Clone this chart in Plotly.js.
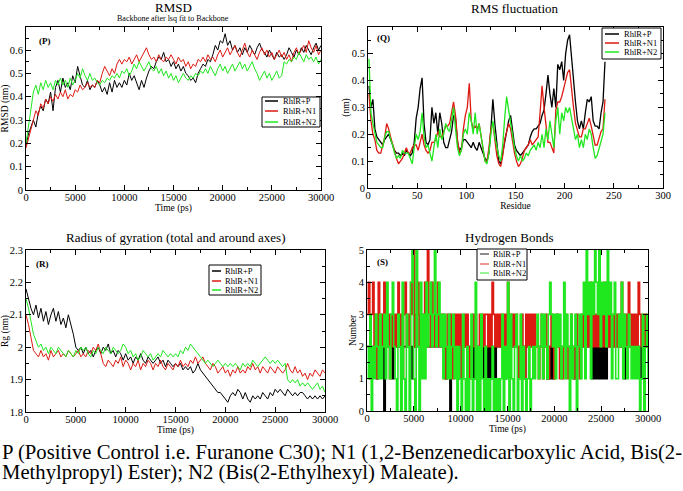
<!DOCTYPE html>
<html><head><meta charset="utf-8">
<script src="https://cdn.plot.ly/plotly-3.0.1.min.js"></script>
<style>html,body{margin:0;padding:0;background:#fff;}#c{width:683px;height:491px;}</style>
</head><body><div id="c"></div>
<script>
// ---------- DATA ----------
const seriesNames = ['RhlR+P', 'RhlR+N1', 'RhlR+N2'];
const timeStep = 250;          // ps between RMSD / Rg samples
const hbStep = 150;            // ps between H-bond samples
const residueStart = 1, residueStep = 2;

const rmsdP = [0.19,0.24,0.27,0.30,0.27,0.33,0.36,0.34,0.39,0.37,0.42,0.34,0.44,0.47,0.42,0.48,0.44,0.46,0.43,0.49,
0.46,0.53,0.49,0.45,0.44,0.47,0.43,0.45,0.44,0.47,0.45,0.42,0.44,0.41,0.46,0.42,0.47,0.44,0.46,0.44,
0.47,0.45,0.50,0.47,0.49,0.46,0.43,0.47,0.44,0.48,0.51,0.53,0.52,0.55,0.57,0.56,0.59,0.55,0.56,0.53,
0.55,0.52,0.54,0.51,0.53,0.50,0.49,0.47,0.48,0.46,0.50,0.52,0.54,0.53,0.56,0.55,0.58,0.62,0.60,0.64,
0.63,0.67,0.62,0.64,0.60,0.62,0.59,0.61,0.58,0.61,0.59,0.62,0.60,0.58,0.61,0.63,0.60,0.59,0.57,0.60,
0.58,0.56,0.59,0.57,0.58,0.56,0.58,0.61,0.59,0.57,0.60,0.58,0.61,0.59,0.62,0.60,0.58,0.61,0.63,0.60,0.62];
const rmsdN1 = [0.18,0.22,0.27,0.31,0.34,0.32,0.37,0.35,0.39,0.37,0.40,0.38,0.41,0.39,0.42,0.40,0.43,0.39,0.41,0.40,
0.43,0.42,0.45,0.43,0.44,0.46,0.44,0.45,0.44,0.47,0.46,0.50,0.53,0.51,0.49,0.52,0.50,0.54,0.56,0.54,
0.56,0.55,0.57,0.54,0.56,0.58,0.55,0.57,0.59,0.61,0.58,0.56,0.57,0.55,0.58,0.56,0.55,0.57,0.56,0.58,
0.56,0.54,0.57,0.55,0.56,0.53,0.55,0.52,0.54,0.53,0.56,0.55,0.57,0.55,0.58,0.56,0.57,0.55,0.58,0.60,
0.57,0.59,0.61,0.58,0.60,0.62,0.59,0.57,0.60,0.63,0.59,0.57,0.60,0.58,0.56,0.59,0.61,0.58,0.60,0.57,
0.59,0.56,0.58,0.60,0.57,0.59,0.56,0.58,0.55,0.59,0.61,0.58,0.60,0.62,0.59,0.64,0.61,0.59,0.62,0.58,0.60];
const rmsdN2 = [0.20,0.28,0.36,0.42,0.45,0.41,0.46,0.43,0.47,0.44,0.46,0.43,0.47,0.45,0.48,0.45,0.47,0.44,0.48,0.45,
0.47,0.50,0.48,0.52,0.49,0.47,0.50,0.47,0.48,0.46,0.45,0.47,0.46,0.48,0.47,0.49,0.48,0.50,0.48,0.51,
0.50,0.52,0.49,0.51,0.54,0.52,0.55,0.53,0.51,0.53,0.55,0.52,0.51,0.53,0.50,0.52,0.49,0.51,0.48,0.50,
0.47,0.49,0.46,0.48,0.50,0.48,0.47,0.49,0.48,0.50,0.49,0.51,0.50,0.52,0.50,0.53,0.51,0.49,0.52,0.54,
0.51,0.53,0.50,0.52,0.54,0.51,0.53,0.55,0.52,0.54,0.51,0.53,0.55,0.52,0.50,0.47,0.49,0.51,0.48,0.50,
0.47,0.49,0.51,0.48,0.49,0.55,0.54,0.56,0.55,0.57,0.56,0.59,0.57,0.55,0.58,0.56,0.57,0.55,0.57,0.54,0.56];

const rmsfP = [0.38,0.30,0.33,0.22,0.19,0.18,0.17,0.16,0.18,0.19,0.20,0.18,0.16,0.14,0.13,0.13,0.12,0.13,0.12,0.14,
0.13,0.12,0.13,0.17,0.26,0.30,0.37,0.41,0.24,0.17,0.16,0.18,0.30,0.24,0.28,0.20,0.28,0.24,0.17,0.15,
0.15,0.18,0.21,0.27,0.26,0.17,0.14,0.15,0.18,0.18,0.17,0.16,0.15,0.17,0.15,0.14,0.17,0.15,0.13,0.11,
0.10,0.13,0.22,0.33,0.24,0.16,0.10,0.09,0.13,0.18,0.22,0.25,0.27,0.21,0.16,0.14,0.13,0.12,0.13,0.14,
0.15,0.16,0.19,0.21,0.22,0.22,0.23,0.24,0.27,0.29,0.35,0.42,0.35,0.30,0.37,0.30,0.46,0.44,0.47,0.40,
0.50,0.55,0.57,0.48,0.40,0.32,0.25,0.22,0.25,0.22,0.28,0.33,0.32,0.34,0.25,0.23,0.23,0.22,0.28,0.32,0.47];
const rmsfN1 = [0.35,0.25,0.20,0.18,0.14,0.13,0.13,0.16,0.19,0.24,0.22,0.19,0.16,0.13,0.11,0.09,0.10,0.11,0.13,0.15,
0.13,0.13,0.15,0.16,0.16,0.14,0.17,0.20,0.16,0.14,0.13,0.14,0.17,0.17,0.18,0.21,0.19,0.19,0.21,0.23,
0.23,0.24,0.28,0.32,0.27,0.18,0.13,0.14,0.22,0.27,0.30,0.39,0.25,0.22,0.23,0.22,0.24,0.19,0.15,0.10,
0.10,0.15,0.22,0.24,0.18,0.12,0.09,0.08,0.12,0.18,0.21,0.24,0.22,0.17,0.13,0.10,0.08,0.09,0.11,0.14,
0.15,0.16,0.18,0.16,0.17,0.18,0.19,0.28,0.38,0.30,0.22,0.17,0.17,0.15,0.13,0.29,0.32,0.32,0.34,0.37,
0.40,0.43,0.44,0.36,0.30,0.24,0.21,0.19,0.19,0.22,0.22,0.24,0.26,0.23,0.19,0.16,0.16,0.19,0.21,0.22,0.33];
const rmsfN2 = [0.48,0.28,0.24,0.21,0.17,0.16,0.15,0.15,0.19,0.21,0.21,0.18,0.16,0.13,0.11,0.12,0.11,0.14,0.13,0.13,
0.13,0.11,0.09,0.15,0.20,0.18,0.21,0.28,0.19,0.15,0.16,0.13,0.10,0.15,0.20,0.15,0.22,0.18,0.20,0.24,
0.22,0.21,0.25,0.30,0.22,0.15,0.12,0.14,0.20,0.22,0.20,0.28,0.25,0.20,0.28,0.20,0.24,0.19,0.14,0.10,
0.09,0.13,0.20,0.25,0.19,0.15,0.12,0.10,0.16,0.26,0.34,0.29,0.24,0.19,0.15,0.12,0.10,0.12,0.10,0.11,
0.13,0.12,0.14,0.15,0.16,0.14,0.17,0.15,0.20,0.15,0.22,0.18,0.25,0.20,0.15,0.25,0.30,0.20,0.28,0.25,
0.30,0.28,0.30,0.26,0.22,0.18,0.20,0.15,0.18,0.15,0.20,0.18,0.22,0.20,0.15,0.11,0.12,0.15,0.18,0.20,0.28];

const rgP = [2.18,2.15,2.12,2.10,2.13,2.09,2.12,2.08,2.11,2.07,2.10,2.12,2.08,2.11,2.07,2.09,2.06,2.10,2.07,2.04,
2.00,1.99,2.00,1.98,2.00,1.98,1.99,1.97,1.99,2.00,1.98,2.00,1.99,2.01,1.98,1.99,1.97,1.99,1.98,1.96,
1.98,1.96,1.97,1.95,1.97,1.96,1.98,1.96,1.95,1.97,1.96,1.95,1.96,1.97,1.95,1.96,1.94,1.96,1.95,1.94,
1.95,1.94,1.95,1.93,1.94,1.93,1.94,1.92,1.93,1.95,1.93,1.92,1.91,1.90,1.89,1.88,1.87,1.86,1.86,1.85,
1.84,1.83,1.85,1.86,1.85,1.87,1.86,1.84,1.86,1.84,1.83,1.85,1.84,1.85,1.84,1.86,1.85,1.84,1.86,1.85,
1.87,1.86,1.87,1.86,1.85,1.87,1.86,1.85,1.86,1.85,1.86,1.86,1.85,1.84,1.85,1.84,1.85,1.84,1.85,1.84,1.85];
const rgN1 = [2.10,2.07,2.03,1.99,1.98,1.97,1.99,1.97,1.98,1.96,1.99,1.97,1.98,1.99,1.97,1.98,1.97,1.99,1.98,1.97,
1.98,1.99,1.97,1.98,1.97,1.99,1.98,2.00,1.99,2.01,1.98,1.95,1.94,1.96,1.95,1.94,1.96,1.95,1.97,1.94,
1.96,1.95,1.93,1.95,1.94,1.96,1.93,1.95,1.94,1.96,1.95,1.93,1.95,1.94,1.96,1.94,1.93,1.95,1.94,1.93,
1.95,1.94,1.96,1.94,1.95,1.94,1.96,1.95,1.97,1.95,1.96,1.97,1.95,1.94,1.93,1.95,1.94,1.92,1.93,1.94,
1.92,1.93,1.91,1.93,1.92,1.94,1.92,1.93,1.92,1.94,1.93,1.95,1.93,1.94,1.92,1.94,1.93,1.92,1.94,1.93,
1.92,1.94,1.93,1.92,1.93,1.95,1.93,1.92,1.94,1.92,1.93,1.91,1.92,1.90,1.92,1.91,1.93,1.92,1.91,1.93,1.92];
const rgN2 = [2.15,2.12,2.08,2.04,2.02,2.00,2.01,1.99,2.00,1.98,2.00,1.99,1.98,2.00,1.99,1.98,1.97,1.99,1.98,1.97,
1.99,1.98,2.00,1.99,2.00,1.98,1.97,1.99,1.98,2.00,1.99,1.98,2.00,1.99,1.98,2.00,1.99,1.98,1.99,2.01,
2.00,1.98,1.99,1.97,1.98,1.96,1.97,1.99,1.98,1.97,1.98,1.96,1.97,1.98,1.97,1.99,1.98,1.97,1.98,1.97,
1.98,1.97,1.99,1.98,2.00,1.99,2.01,2.00,1.99,1.98,1.97,1.96,1.95,1.96,1.95,1.94,1.95,1.96,1.95,1.94,
1.95,1.94,1.95,1.94,1.95,1.94,1.93,1.95,1.94,1.95,1.94,1.96,1.95,1.94,1.95,1.96,1.97,1.96,1.95,1.96,
1.95,1.96,1.95,1.94,1.95,1.90,1.89,1.90,1.89,1.90,1.88,1.89,1.88,1.89,1.88,1.87,1.88,1.89,1.87,1.88,1.86];

const hbP = [2,2,1,2,2,2,2,1,2,2, 2,2,0,2,2,2,2,2,1,2, 2,2,2,2,1,2,2,2,2,2, 2,2,1,2,2,2,2,2,2,2,
2,2,2,2,2,2,2,2,2,2, 2,2,2,2,2,2,1,2,2,0, 2,2,2,2,2,1,2,2,2,2, 2,2,2,2,2,2,1,2,2,2,
2,2,2,1,2,1,2,1,2,1, 2,1,2,2,2,2,2,2,1,2, 2,2,2,2,2,2,2,2,2,2, 2,2,1,2,2,2,2,2,2,2,
2,2,2,2,2,2,2,2,1,2, 1,2,1,2,2,2,2,2,2,2, 2,2,2,2,2,2,2,1,2,2, 2,2,2,2,2,2,2,2,2,2,
1,2,1,2,1,2,1,2,1,2, 1,2,2,2,2,2,2,2,2,2, 2,2,2,1,2,2,2,2,2,2, 2,2,2,2,2,1,2,2,2,2, 2];
const hbN1 = [3,4,2,3,4,2,3,1,4,2, 3,2,4,3,2,3,1,3,2,3, 2,3,4,2,3,1,3,4,2,3, 2,4,3,5,2,3,4,2,3,2,
3,4,2,5,3,2,4, 3,2,3,4,2,3,2, 3,1,2,3,2,3,2,1,3,2, 3,2,3,1,2,3,2,3,2,1,
2,3,2,3,1,2,3,2,3,2,3, 3,2,3,2,4,3,2,3,2,3,2, 3,2,3,2,4,2,3,2,3,2, 3,2,1,2,3,2,1,
3,2,3,2,3,2,3,2, 2,1,2,3,1,2,3,2,1,2, 3,2,1,2,3,2,1,2,1,2, 3,2,1,2,3,2,1,2,3,2,1,2,
3,2,3,2,3,2,4,2,3,2, 3,2,3,2,3,2,4,2,3,2, 3,2,3,2,3, 2,3,2,4,3,2,3,2,4,3, 2,3,2,3,2,4,3,2,3,2, 3,2,3];
const hbN2 = [2,1,3,0,2,1,3,2,1,3, 1,2,3,1,4,2,1,3,4,2, 1,0,3,2,0,4,1,0,3,2, 0,4,5,1,0,5,2,0,4,1,
3,1,4,2,3,4,2, 3,5,2,3,4,2,3, 1,3,2,1,3,1,2,3,1,2, 0,2,1,0,3,1,0,2,0,1,
3,0,1,4,0,2,0,3,1,0,2, 0,1,0,1,2,0,1,0,1,0,1, 3,0,2,1,4,0,3,1,0,2, 3,0,1,3,0,2,1,
0,1,2,0,1,2,1,2, 3,1,2,3,1,3,2,1,3,4, 3,2,3,1,3,2,3,1,2,4, 1,3,2,0,3,1,2,3,0,2,3,1,
3,4,1,5,3,4,1,4,3,5, 4,3,5,2,4,3,4,2,5,3, 4,1,3,4,1, 1,3,2,4,1,3,2,1,3,2, 1,2,1,2,1,2,0,1,3,0, 2,3,1];

const captionLines = ['P (Positive Control i.e. Furanone C30); N1 (1,2-Benzenedicarboxylic Acid, Bis(2-',
  'Methylpropyl) Ester); N2 (Bis(2-Ethylhexyl) Maleate).'];

// ---------- BUILD ----------
const colors = ['#000000', '#dd1a12', '#1fe81f'];
const FONT = 'Liberation Serif';
const grid = (arr, step, start) => arr.map((_, i) => (start || 0) + i * step);

function mk(y, step, start, idx, xa, ya, w, shape) {
  return {x: grid(y, step, start), y: y, type: 'scatter', mode: 'lines', name: seriesNames[idx],
    line: {color: colors[idx], width: w || 1, shape: shape || 'linear'}, xaxis: xa, yaxis: ya,
    showlegend: false, hoverinfo: 'skip'};
}
const traces = [
  mk(rmsdP, timeStep, 0, 0, 'x', 'y'),
  mk(rmsdN1, timeStep, 0, 1, 'x', 'y'),
  mk(rmsdN2, timeStep, 0, 2, 'x', 'y'),
  mk(rmsfP, residueStep, residueStart, 0, 'x2', 'y2', 1.3),
  mk(rmsfN1, residueStep, residueStart, 1, 'x2', 'y2', 1.3),
  mk(rmsfN2, residueStep, residueStart, 2, 'x2', 'y2', 1.3),
  mk(rgP, timeStep, 0, 0, 'x3', 'y3'),
  mk(rgN1, timeStep, 0, 1, 'x3', 'y3'),
  mk(rgN2, timeStep, 0, 2, 'x3', 'y3'),
  mk(hbP, hbStep, 0, 0, 'x4', 'y4', 1.6, 'hv'),
  mk(hbN1, hbStep, 0, 1, 'x4', 'y4', 1.6, 'hv'),
  mk(hbN2, hbStep, 0, 2, 'x4', 'y4', 1.6, 'hv')
];

const W = 683, H = 491;
const px = v => v / W, py = v => 1 - v / H;

function ax(dom, range, dtick, minor, title, extra) {
  return Object.assign({
    domain: dom, range: range, dtick: dtick, tick0: 0, showgrid: false, zeroline: false,
    showline: true, linecolor: '#000', linewidth: 1, mirror: 'allticks',
    ticks: 'inside', ticklen: 5, tickcolor: '#000', tickwidth: 1,
    minor: {ticks: 'inside', ticklen: 3, dtick: minor, tickcolor: '#000'},
    exponentformat: 'none', separatethousands: false,
    tickfont: {family: FONT, size: 10.5, color: '#000'},
    title: {text: title, font: {family: FONT, size: 9.5, color: '#000'}, standoff: 0},
    fixedrange: true
  }, extra || {});
}

const ann = (text, x, y, size, extra) => Object.assign({text: text, x: px(x), y: py(y), xref: 'paper', yref: 'paper',
  xanchor: 'center', yanchor: 'middle', showarrow: false,
  font: {family: FONT, size: size, color: '#000'}}, extra || {});

// compact xmgrace-style legend boxes
const shapes = [], annotations = [];
function legendBox(x0, x1, y0, y1, lx0, lx1, tx, ys, alpha) {
  shapes.push({type: 'rect', xref: 'paper', yref: 'paper', x0: px(x0), x1: px(x1), y0: py(y1), y1: py(y0),
    line: {color: '#000', width: 1}, fillcolor: '#fff', layer: 'above'});
  seriesNames.forEach((n, i) => {
    shapes.push({type: 'line', xref: 'paper', yref: 'paper', x0: px(lx0), x1: px(lx1), y0: py(ys[i]), y1: py(ys[i]),
      line: {color: colors[i], width: 1.5}, opacity: alpha || 1, layer: 'above'});
    annotations.push(ann(n, tx, ys[i], 8.5, {xanchor: 'left', borderpad: 0}));
  });
}
legendBox(262, 320, 97, 127, 265, 278, 282, [101, 111, 122]);
legendBox(602, 661, 28, 59, 605, 619, 623, [34, 43, 52]);
legendBox(209, 261, 265, 295, 212, 221, 224, [271, 281, 290]);
legendBox(477, 527, 249, 280, 480, 489, 492, [254, 264, 273], 0.6);

annotations.push(
  ann('RMSD', 173, 7, 13),
  ann('Backbone after lsq fit to Backbone', 173, 18, 8),
  ann('RMS fluctuation', 515, 8, 13),
  ann('Radius of gyration (total and around axes)', 176, 237, 13),
  ann('Hydrogen Bonds', 509, 237, 13),
  ann('<b>(P)</b>', 45, 41, 9),
  ann('<b>(Q)</b>', 383, 38, 9),
  ann('<b>(R)</b>', 42, 264, 9),
  ann('<b>(S)</b>', 382, 262, 9),
  ann(captionLines[0], 0, 452, 20.7, {xanchor: 'left'}),
  ann(captionLines[1], 0, 472, 20.7, {xanchor: 'left'})
);

const xExtra = a => ({anchor: a, ticklabelstandoff: -3});
const layout = {
  width: W, height: H, margin: {l: 0, r: 0, t: 0, b: 0},
  paper_bgcolor: '#fff', plot_bgcolor: '#fff', showlegend: false,
  xaxis: ax([px(26), px(321)], [0, 30000], 5000, 2500, 'Time (ps)', Object.assign(xExtra('y'), {tickformat: 'd'})),
  yaxis: ax([py(190), py(27)], [0, 0.699], 0.1, 0.05, 'RMSD (nm)', {anchor: 'x'}),
  xaxis2: ax([px(368), px(663)], [0, 300], 50, 25, 'Residue', xExtra('y2')),
  yaxis2: ax([py(188), py(27)], [0, 0.599], 0.1, 0.05, '(nm)', {anchor: 'x2'}),
  xaxis3: ax([px(26), px(325)], [0, 30000], 5000, 2500, 'Time (ps)', Object.assign(xExtra('y3'), {tickformat: 'd'})),
  yaxis3: ax([py(412), py(250)], [1.8, 2.3], 0.1, 0.05, 'Rg (nm)', {anchor: 'x3'}),
  xaxis4: ax([px(367), px(648)], [0, 30000], 5000, 2500, 'Time (ps)', Object.assign(xExtra('y4'), {tickformat: 'd'})),
  yaxis4: ax([py(411), py(250)], [0, 5], 1, 0.5, 'Number', {anchor: 'x4'}),
  shapes: shapes,
  annotations: annotations
};

Plotly.newPlot('c', traces, layout, {displayModeBar: false, staticPlot: true});
</script></body></html>
